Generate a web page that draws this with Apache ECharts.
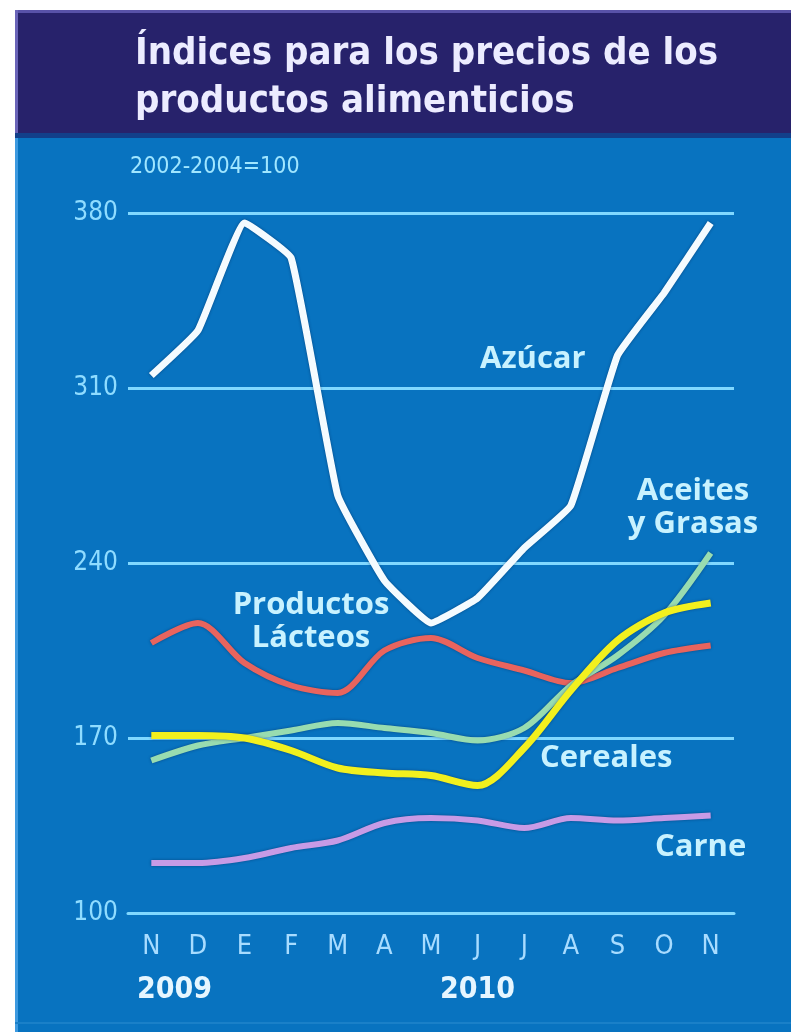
<!DOCTYPE html>
<html>
<head>
<meta charset="utf-8">
<script src="https://cdn.jsdelivr.net/npm/echarts@6/dist/echarts.min.js"></script>
<style>
  html, body { margin: 0; padding: 0; background: #fff; }
  #chart { width: 791px; height: 1032px; }
</style>
</head>
<body>
<div id="chart"></div>
<script>
// meses nov 2009 - nov 2010
const months = ["N", "D", "E", "F", "M", "A", "M", "J", "J", "A", "S", "O", "N"];
const yTicks = [100, 170, 240, 310, 380];

const azucar = [315, 333, 376, 362, 267, 233, 216, 226, 246, 263, 323, 348, 376];
const lacteos = [208, 216, 200, 191, 188, 205, 210, 202, 197, 192, 198, 204, 207];
const aceites = [161, 167, 170, 173, 176, 174, 172, 169, 174, 191, 203, 219, 244];
const cereales = [171, 171, 170, 165, 158, 156, 155, 151, 166, 189, 209, 220, 224];
const carne = [120, 120, 122, 126, 129, 136, 138, 137, 134, 138, 137, 138, 139];

const chart = echarts.init(document.getElementById("chart"), null, { renderer: "canvas" });

const condensed = '"DejaVu Sans Condensed", "DejaVu Sans", sans-serif';
const labelFont = '"Open Sans", "DejaVu Sans", sans-serif';
const labelColor = "#c8f2ff";

function line(name, data, color, width, smooth, z) {
  return {
    name,
    type: "line",
    data,
    smooth,
    symbol: "none",
    z,
    lineStyle: {
      color,
      width,
      shadowColor: "rgba(0,20,60,0.45)",
      shadowBlur: 3,
    },
  };
}

// texto fijo (etiquetas de series, años)
function label(text, x, y, size, align, weight) {
  return {
    type: "text",
    x,
    y,
    z: 5,
    style: {
      text,
      fill: labelColor,
      font: (weight || "bold") + " " + size + "px " + labelFont,
      align: align || "left",
      verticalAlign: "top",
      lineHeight: 33,
    },
  };
}

chart.setOption({
  animation: false,
  backgroundColor: "#ffffff",
  title: {
    text: "Índices para los precios de los\nproductos alimenticios",
    left: 130,
    top: 25,
    textStyle: {
      color: "#ececff",
      fontFamily: condensed,
      fontSize: 38,
      fontWeight: "bold",
      lineHeight: 48,
    },
  },
  graphic: [
    // fondo del panel
    { type: "rect", x: 15, y: 10, z: -10, shape: { width: 776, height: 1022 }, style: { fill: "#0873c0" } },
    { type: "rect", x: 15, y: 10, z: -9, shape: { width: 776, height: 123 }, style: { fill: "#27226b" } },
    { type: "rect", x: 15, y: 10, z: -8, shape: { width: 776, height: 3 }, style: { fill: "#5852a8" } },
    { type: "rect", x: 15, y: 10, z: -8, shape: { width: 3, height: 123 }, style: { fill: "#6a64b8" } },
    { type: "rect", x: 15, y: 133, z: -8, shape: { width: 776, height: 5 }, style: { fill: "#123f8a" } },
    { type: "rect", x: 15, y: 138, z: -8, shape: { width: 3, height: 894 }, style: { fill: "#3d9ae0" } },
    { type: "rect", x: 15, y: 1022, z: -8, shape: { width: 776, height: 2 }, style: { fill: "#1a80c8" } },
    {
      type: "text", x: 130, y: 156, z: 5,
      style: { text: "2002-2004=100", fill: "#a0e6ff", font: "23px " + condensed, verticalAlign: "top" },
    },
    // etiquetas de series
    label("Azúcar", 480, 343, 31),
    label("Productos\nLácteos", 311, 589, 31, "center"),
    label("Aceites\ny Grasas", 693, 475, 31, "center"),
    label("Cereales", 540, 742, 31),
    label("Carne", 655, 831, 31),
    // años
    {
      type: "text", x: 137, y: 975, z: 5,
      style: { text: "2009", fill: "#e6f6ff", font: "bold 30px " + condensed, verticalAlign: "top" },
    },
    {
      type: "text", x: 440, y: 975, z: 5,
      style: { text: "2010", fill: "#e6f6ff", font: "bold 30px " + condensed, verticalAlign: "top" },
    },
  ],
  grid: { left: 128, right: 57, top: 213, bottom: 119 },
  xAxis: {
    type: "category",
    data: months,
    boundaryGap: true,
    axisLine: { lineStyle: { color: "#80d8ff", width: 3 } },
    axisTick: { inside: true, alignWithLabel: true, length: 11, lineStyle: { color: "#80d8ff", width: 2 } },
    axisLabel: { color: "#a8dcff", fontSize: 27, fontFamily: condensed, margin: 20, interval: 0 },
    splitLine: { show: false },
  },
  yAxis: {
    type: "value",
    min: 100,
    max: 380,
    axisLine: { show: false },
    axisTick: { show: false },
    splitLine: { show: false },
    axisLabel: {
      customValues: yTicks,
      color: "#8fdcff",
      fontSize: 26,
      fontFamily: condensed,
      margin: 10,
    },
  },
  series: [
    Object.assign(line("Carne", carne, "#c79be6", 6, 0.3, 2), {
      markLine: {
        silent: true,
        symbol: "none",
        label: { show: false },
        lineStyle: { color: "#80d8ff", width: 3, type: "solid" },
        data: yTicks.slice(1).map((v) => ({ yAxis: v })),
        z: 1,
      },
    }),
    line("Productos Lácteos", lacteos, "#e8645e", 6, 0.3, 3),
    line("Aceites y Grasas", aceites, "#98dcb0", 6, 0.3, 4),
    line("Cereales", cereales, "#f2f01e", 7, 0.3, 5),
    line("Azúcar", azucar, "#f4fbff", 7, 0.1, 6),
  ],
});
</script>
</body>
</html>
